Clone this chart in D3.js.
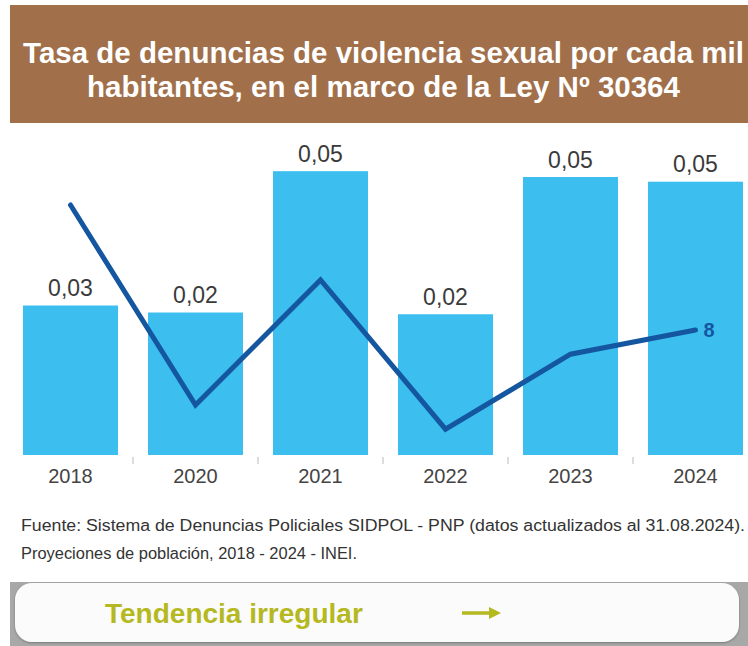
<!DOCTYPE html>
<html>
<head>
<meta charset="utf-8">
<script src="https://cdn.jsdelivr.net/npm/d3@7"></script>
<style>
  html, body { margin: 0; padding: 0; background: #ffffff; }
  svg { display: block; }
</style>
</head>
<body>
<svg id="chart" width="748" height="646"></svg>
<script>
// ---- Data ----
const years = ["2018", "2020", "2021", "2022", "2023", "2024"];
const tasa = [0.0256, 0.0244, 0.0486, 0.0241, 0.0476, 0.0468];        // bars (rate per 1000)
const tendencia = [16.0, 3.2, 11.2, 1.65, 6.45, 8.0];                  // line (secondary)
const titleLines = ["Tasa de denuncias de violencia sexual por cada mil",
                    "habitantes, en el marco de la Ley Nº 30364"];
const sourceLines = ["Fuente: Sistema de Denuncias Policiales SIDPOL - PNP (datos actualizados al 31.08.2024).",
                     "Proyeciones de población, 2018 - 2024 - INEI."];
const trendText = "Tendencia irregular";

// ---- Setup ----
const svg = d3.select("#chart");
const FONT = "'Liberation Sans', Arial, Helvetica, sans-serif";
const baseY = 455;

// Header
svg.append("rect").attr("x", 10).attr("y", 5).attr("width", 738).attr("height", 118)
  .attr("fill", "#A1704A");
svg.selectAll("text.title").data(titleLines).join("text")
  .attr("class", "title")
  .attr("x", 383.5).attr("y", (d, i) => 62.5 + i * 34)
  .attr("text-anchor", "middle")
  .attr("font-family", FONT).attr("font-weight", "bold").attr("font-size", 29.5)
  .attr("fill", "#ffffff")
  .text(d => d);

// Scales
const x = d3.scaleBand().domain(years).range([8, 758]).paddingInner(0.24).paddingOuter(0.12);
const y = d3.scaleLinear().domain([0, 0.05]).range([baseY, baseY - 0.05 * 5840]);
const y2 = d3.scaleLinear().domain([0, 20]).range([baseY, baseY - 20 * 15.625]);

const fmt = v => d3.format(".2f")(v).replace(".", ",");

// Bars
svg.selectAll("rect.bar").data(years).join("rect")
  .attr("class", "bar")
  .attr("x", d => x(d)).attr("width", x.bandwidth())
  .attr("y", (d, i) => y(tasa[i])).attr("height", (d, i) => baseY - y(tasa[i]))
  .attr("fill", "#3CBFEF");

// Bar labels
svg.selectAll("text.blab").data(years).join("text")
  .attr("class", "blab")
  .attr("x", d => x(d) + x.bandwidth() / 2)
  .attr("y", (d, i) => y(tasa[i]) - 9.5)
  .attr("text-anchor", "middle")
  .attr("font-family", FONT).attr("font-size", 23)
  .attr("fill", "#3a3a3a")
  .text((d, i) => fmt(tasa[i]));

// X axis (labels)
const axis = svg.append("g").attr("transform", `translate(0,${baseY})`)
  .call(d3.axisBottom(x).tickSize(0).tickPadding(14));
axis.select(".domain").remove();
axis.selectAll("text").attr("font-family", FONT).attr("font-size", 20).attr("fill", "#444");

// Separator ticks between categories
const seps = years.slice(1);
svg.selectAll("line.sep").data(seps).join("line")
  .attr("class", "sep")
  .attr("x1", d => x(d) - x.step() * x.paddingInner() / 2)
  .attr("x2", d => x(d) - x.step() * x.paddingInner() / 2)
  .attr("y1", baseY + 2).attr("y2", baseY + 9)
  .attr("stroke", "#bbbbbb").attr("stroke-width", 1);

// Line
const line = d3.line()
  .x((d, i) => x(years[i]) + x.bandwidth() / 2)
  .y(d => y2(d));
svg.append("path").datum(tendencia)
  .attr("d", line)
  .attr("fill", "none").attr("stroke", "#1456A0").attr("stroke-width", 5)
  .attr("stroke-linecap", "round").attr("stroke-linejoin", "miter");

// Last point label
const lastI = tendencia.length - 1;
svg.append("text")
  .attr("x", x(years[lastI]) + x.bandwidth() / 2 + 8)
  .attr("y", y2(tendencia[lastI]) + 7)
  .attr("font-family", FONT).attr("font-weight", "bold").attr("font-size", 20)
  .attr("fill", "#1456A0")
  .text(d3.format("d")(tendencia[lastI]));

// Source
const srcWidths = [724, 336];
svg.selectAll("text.src").data(sourceLines).join("text")
  .attr("class", "src")
  .attr("x", 21).attr("y", (d, i) => 531 + i * 28)
  .attr("font-family", FONT).attr("font-size", 16)
  .attr("textLength", (d, i) => srcWidths[i]).attr("lengthAdjust", "spacingAndGlyphs")
  .attr("fill", "#333")
  .text(d => d);

// Bottom trend box
const defs = svg.append("defs");
const f = defs.append("filter").attr("id", "sh").attr("x", "-5%").attr("y", "-20%").attr("width", "110%").attr("height", "140%");
f.append("feDropShadow").attr("dx", 0).attr("dy", 1).attr("stdDeviation", 1.2).attr("flood-color", "#555").attr("flood-opacity", 0.6);

svg.append("rect").attr("x", 10).attr("y", 582).attr("width", 738).attr("height", 64).attr("fill", "#A8A8A8");
svg.append("rect").attr("x", 15).attr("y", 583).attr("width", 724).attr("height", 59).attr("rx", 17)
  .attr("fill", "#FBFBFB").attr("filter", "url(#sh)");
svg.append("text").attr("x", 105).attr("y", 623)
  .attr("font-family", FONT).attr("font-weight", "bold").attr("font-size", 28)
  .attr("fill", "#B5B81E")
  .text(trendText);
svg.append("line").attr("x1", 462).attr("x2", 492).attr("y1", 613).attr("y2", 613)
  .attr("stroke", "#B5B81E").attr("stroke-width", 3.5);
svg.append("path").attr("d", "M489,607 L501,613 L489,619 Z").attr("fill", "#B5B81E");
</script>
</body>
</html>
